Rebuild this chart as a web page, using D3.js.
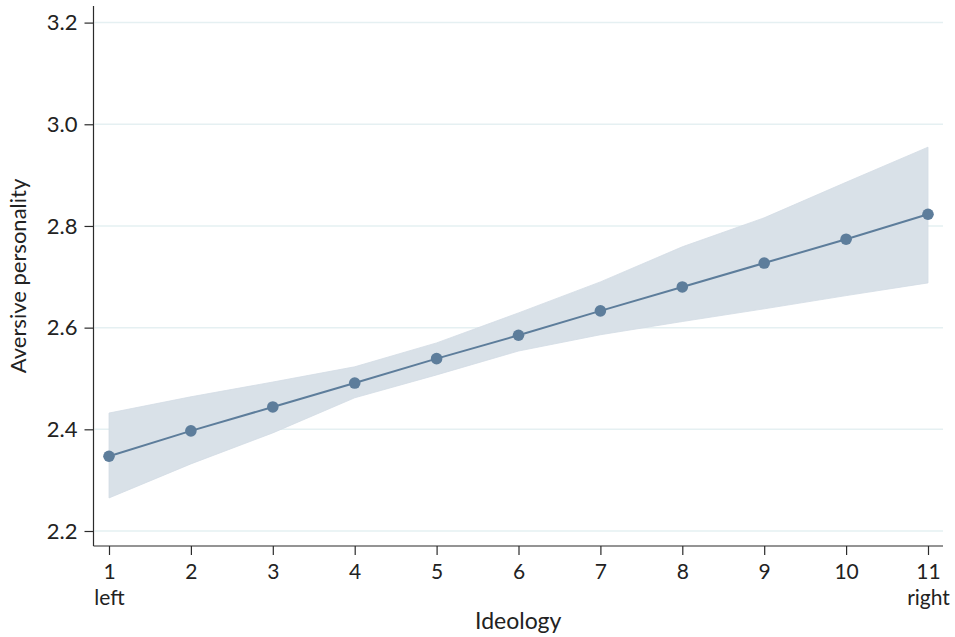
<!DOCTYPE html>
<html>
<head>
<meta charset="utf-8">
<script src="https://cdn.jsdelivr.net/npm/d3@7"></script>
<style>
  body { margin: 0; background: #fff; }
  svg { display: block; font-family: Lato, "Open Sans", sans-serif; }
</style>
</head>
<body>
<svg id="chart" width="955" height="637"></svg>
<script>
const ideology = [1, 2, 3, 4, 5, 6, 7, 8, 9, 10, 11];
const estimate = [2.347, 2.397, 2.444, 2.491, 2.539, 2.585, 2.633, 2.680, 2.727, 2.774, 2.823];
const upperCI  = [2.432, 2.464, 2.493, 2.523, 2.570, 2.629, 2.690, 2.759, 2.816, 2.886, 2.955];
const lowerCI  = [2.265, 2.332, 2.393, 2.462, 2.507, 2.554, 2.586, 2.612, 2.637, 2.663, 2.688];
const yTicks = [2.2, 2.4, 2.6, 2.8, 3.0, 3.2];
const xTicks = [1, 2, 3, 4, 5, 6, 7, 8, 9, 10, 11];
const xEndLabels = {1: "left", 11: "right"};
const xTitle = "Ideology";
const yTitle = "Aversive personality";

const svg = d3.select("#chart");
const plot = {left: 93.5, right: 943, top: 6, bottom: 546};
const x = d3.scaleLinear().domain([1, 11]).range([109, 928]);
const y = d3.scaleLinear().domain([2.2, 3.2]).range([531, 22.6]);

const mainColor = "#5d7d9b";
const bandColor = "#d9e1e8";
const gridColor = "#e5f0f2";
const axisColor = "#2b2b2b";
const font = "Lato, 'Open Sans', sans-serif";

// gridlines
svg.append("g").selectAll("line").data(yTicks).join("line")
  .attr("x1", plot.left + 1).attr("x2", plot.right)
  .attr("y1", d => y(d)).attr("y2", d => y(d))
  .attr("stroke", gridColor).attr("stroke-width", 1.5);

// CI band
const rows = ideology.map((v, i) => ({x: v, m: estimate[i], lo: lowerCI[i], hi: upperCI[i]}));
svg.append("path").datum(rows)
  .attr("d", d3.area().x(d => x(d.x)).y0(d => y(d.lo)).y1(d => y(d.hi)))
  .attr("fill", bandColor).attr("stroke", "#d3dce5").attr("stroke-width", 0.8);

// line
svg.append("path").datum(rows)
  .attr("d", d3.line().x(d => x(d.x)).y(d => y(d.m)))
  .attr("fill", "none").attr("stroke", mainColor).attr("stroke-width", 2);

// points
svg.append("g").selectAll("circle").data(rows).join("circle")
  .attr("cx", d => x(d.x)).attr("cy", d => y(d.m)).attr("r", 5.8)
  .attr("fill", mainColor);

// y axis
const yAxis = svg.append("g").attr("transform", `translate(${plot.left},0)`)
  .call(d3.axisLeft(y).tickValues(yTicks).tickFormat(d3.format(".1f")).tickSize(9).tickPadding(7));
yAxis.select(".domain").remove();
yAxis.selectAll(".tick line").attr("stroke", axisColor).attr("stroke-width", 1.2);
yAxis.selectAll(".tick text").attr("font-size", 22).attr("fill", "#222").attr("font-family", font);

// x axis
const xAxis = svg.append("g").attr("transform", `translate(0,${plot.bottom})`)
  .call(d3.axisBottom(x).tickValues(xTicks).tickFormat(d3.format("d")).tickSize(9));
xAxis.select(".domain").remove();
xAxis.selectAll(".tick line").attr("stroke", axisColor).attr("stroke-width", 1.2);
xAxis.selectAll(".tick text").attr("y", 33).attr("dy", 0)
  .attr("font-size", 21).attr("fill", "#222").attr("font-family", font);
xAxis.selectAll(".tick").filter(d => xEndLabels[d]).append("text")
  .attr("y", 59).attr("text-anchor", "middle")
  .attr("font-size", 21).attr("fill", "#222").attr("font-family", font)
  .text(d => xEndLabels[d]);

// axis lines
svg.append("line").attr("x1", plot.left).attr("x2", plot.left).attr("y1", plot.top).attr("y2", plot.bottom)
  .attr("stroke", axisColor).attr("stroke-width", 1.2);
svg.append("line").attr("x1", plot.left).attr("x2", plot.right).attr("y1", plot.bottom).attr("y2", plot.bottom)
  .attr("stroke", axisColor).attr("stroke-width", 1.2);

// titles
svg.append("text").attr("x", (plot.left + plot.right) / 2).attr("y", 629)
  .attr("text-anchor", "middle").attr("font-size", 23).attr("fill", "#222").text(xTitle);
svg.append("text").attr("transform", `translate(26,${(plot.top + plot.bottom) / 2}) rotate(-90)`)
  .attr("text-anchor", "middle").attr("font-size", 22).attr("fill", "#222").text(yTitle);
</script>
</body>
</html>
